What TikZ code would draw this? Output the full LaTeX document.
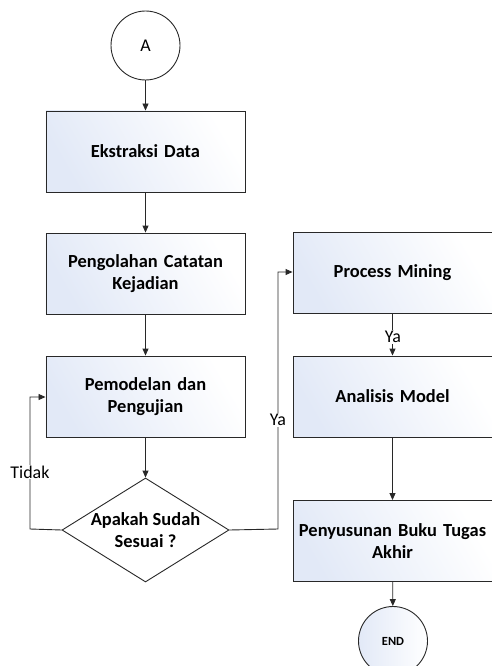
\documentclass[tikz,border=0pt]{standalone}
\usepackage{fontspec}
\setmainfont{Carlito}
\usetikzlibrary{shapes.geometric,arrows.meta}
\definecolor{boxfill}{RGB}{226,233,247}
\definecolor{edge}{RGB}{40,40,40}
\begin{document}
\begin{tikzpicture}[x=1bp,y=-1bp,
  proc/.style={draw=edge,line width=0.9bp,rectangle,minimum width=199bp,minimum height=81bp,inner sep=2bp,
    left color=boxfill,right color=white,shading angle=120,align=center,font=\fontsize{18.5}{22}\selectfont\bfseries,text width=194bp},
  term/.style={draw=edge,line width=0.9bp,circle,minimum size=69bp,inner sep=0pt,fill=white},
  decis/.style={draw=edge,line width=0.9bp,diamond,minimum width=167bp,minimum height=104bp,inner sep=0pt,fill=white},
  dectext/.style={align=center,inner sep=0pt,font=\fontsize{18.5}{22}\selectfont\bfseries},
  conn/.style={draw=edge,line width=0.9bp,-{Triangle[length=7bp,width=6bp]}},
  lab/.style={fill=white,inner sep=1bp,font=\fontsize{18}{21}\selectfont}]
\useasboundingbox (0,0) rectangle (492,666);
\node[term,font=\fontsize{18}{21}\selectfont] (A) at (145.5,45.5) {A};
\node[proc] (ek) at (145.5,151.5) {Ekstraksi Data};
\node[proc] (peng) at (145.5,273.5) {Pengolahan Catatan\\Kejadian};
\node[proc] (pem) at (145.5,396.5) {Pemodelan dan\\Pengujian};
\node[decis] (dec) at (145.5,530) {};
\node[dectext] (dect) at (dec.center) {Apakah Sudah\\Sesuai ?};
\node[proc] (pm) at (392.5,273) {Process Mining};
\node[proc] (am) at (392.5,396.5) {Analisis Model};
\node[proc] (pbt) at (392.5,541) {Penyusunan Buku Tugas\\Akhir};
\node[term,left color=boxfill,right color=white,font=\fontsize{12.5}{14}\selectfont\bfseries] (end) at (393,641) {END};
\coordinate (tl) at (30,529);
\coordinate (tu) at (30,397);
\coordinate (yl) at (278,529);
\coordinate (yu) at (278,272);
\draw[conn] (A) -- (ek);
\draw[conn] (ek) -- (peng);
\draw[conn] (peng) -- (pem);
\draw[conn] (pem) -- (dec);
\draw[conn] (dec.west) -- (tl) -- (tu) -- (tu -| pem.west);
\draw[conn] (dec.east) -- (yl) -- (yu) -- (yu -| pm.west);
\draw[conn] (pm) -- (am);
\draw[conn] (am) -- (pbt);
\draw[conn] (pbt) -- (end);
\node[lab] (tidak) at (30,472) {Tidak};
\node[lab] (ya1) at (278,420) {Ya};
\node[lab] (ya2) at (393,337) {Ya};
\end{tikzpicture}
\end{document}
